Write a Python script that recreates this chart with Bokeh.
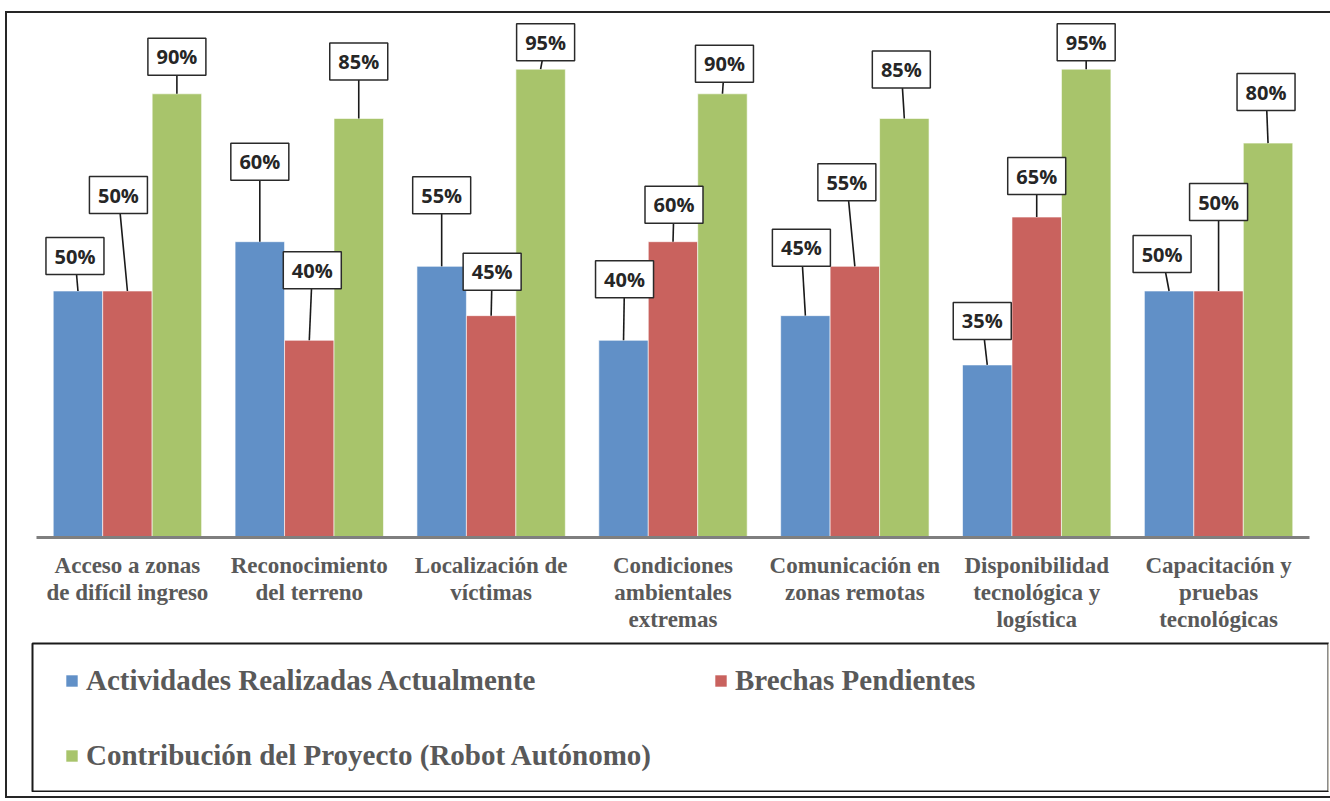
import numpy as np
from bokeh.plotting import figure
from bokeh.models import Range1d, Legend, LegendItem, FixedTicker
from bokeh.embed import file_html
from bokeh.resources import INLINE
from bokeh.core.properties import value

# ---------------- data ----------------
categories = [
    "Acceso a zonas\nde difícil ingreso",
    "Reconocimiento\ndel terreno",
    "Localización de\nvíctimas",
    "Condiciones\nambientales\nextremas",
    "Comunicación en\nzonas remotas",
    "Disponibilidad\ntecnológica y\nlogística",
    "Capacitación y\npruebas\ntecnológicas",
]
series_names = [
    "Actividades Realizadas Actualmente",
    "Brechas Pendientes",
    "Contribución del Proyecto (Robot Autónomo)",
]
actividades = [50, 60, 55, 40, 45, 35, 50]
brechas = [50, 40, 45, 60, 55, 65, 50]
contribucion = [90, 85, 95, 90, 85, 95, 80]
series_values = [actividades, brechas, contribucion]

# ---------------- style ----------------
colors = ["#6190C7", "#C9625E", "#A8C46B"]
bar_w = 0.272
offsets = [-bar_w, 0.0, bar_w]
# data-label leader offsets in screen pixels (dx right, dy up) per series
lab_dx = [[-3, 0, 0, 1, -4, -5, -7],
          [-9, 3, 1, 1, -8, 0, 0],
          [0, 0, 5, 2, -3, 0, -2]]
lab_dy = [[35, 80, 71, 61, 68, 44, 37],
          [96, 70, 44, 37, 84, 41, 89],
          [37, 57, 27, 30, 49, 27, 51]]

FIG_W, FIG_H = 1323, 783
B_LEFT, B_RIGHT, B_TOP, B_BOTTOM = 29, 21, 7, 259
frame_w = FIG_W - B_LEFT - B_RIGHT
frame_h = FIG_H - B_TOP - B_BOTTOM
px_per_pct = 4.93
y_end = frame_h / px_per_pct
n = len(categories)
px_per_cat = frame_w / n

p = figure(width=FIG_W, height=FIG_H, output_backend="svg", toolbar_location=None,
           x_range=Range1d(-0.5, n - 0.5), y_range=Range1d(0, y_end),
           min_border_left=B_LEFT, min_border_right=B_RIGHT,
           min_border_top=B_TOP, min_border_bottom=B_BOTTOM,
           y_axis_location=None)
p.styles = {"margin-left": "7px", "margin-top": "13px", "outline": "2px solid #262626"}
p.outline_line_color = None
p.grid.visible = False
p.background_fill_color = "white"
p.border_fill_color = "white"

xax = p.xaxis[0]
xax.ticker = FixedTicker(ticks=list(range(n)))
xax.major_label_overrides = {i: c for i, c in enumerate(categories)}
xax.axis_line_color = "#7F7F7F"
xax.axis_line_width = 3
xax.major_tick_line_color = None
xax.minor_tick_line_color = None
xax.major_label_standoff = 9
xax.major_label_text_font = "Liberation Serif"
xax.major_label_text_font_style = "bold"
xax.major_label_text_font_size = "23px"
xax.major_label_text_color = "#595959"
xax.major_label_text_line_height = 1.08

base = np.arange(n)
lx_all, ly_all, bx_all, by_all, txt_all = [], [], [], [], []
for s, vals in enumerate(series_values):
    xs = base + offsets[s]
    p.vbar(x=xs, top=vals, width=bar_w, fill_color=colors[s],
           line_color="white", line_alpha=0.6, line_width=1)
    for i, v in enumerate(vals):
        bx_all.append(xs[i])
        by_all.append(v)
        lx_all.append(xs[i] + lab_dx[s][i] / px_per_cat)
        ly_all.append(v + lab_dy[s][i] / px_per_pct)
        txt_all.append(f"{v}%")

p.segment(x0=bx_all, y0=by_all, x1=lx_all, y1=ly_all, line_color="#1A1A1A", line_width=1.6)
p.rect(x=lx_all, y=ly_all, width=58, height=37, width_units="screen", height_units="screen",
       fill_color="white", line_color="#2A2A2A", line_width=1.5)
p.text(x=lx_all, y=ly_all, text=txt_all, text_align="center", text_baseline="middle",
       text_font=value("Open Sans"), text_font_style="bold", text_font_size="20px",
       text_color="#262626")

# ---------------- legend panel (overlaid on the lower part of the chart) ----------------
LG_W, LG_H = 1298, 150
lg = figure(width=LG_W, height=LG_H, output_backend="svg", toolbar_location=None,
            x_range=Range1d(0, 1), y_range=Range1d(0, 1),
            x_axis_location=None, y_axis_location=None,
            min_border_left=1, min_border_right=1, min_border_top=1, min_border_bottom=1)
lg.styles = {"position": "absolute", "left": "31px", "top": "642px"}
lg.grid.visible = False
lg.outline_line_color = "#1A1A1A"
lg.outline_line_width = 2
lg.background_fill_color = "white"
lg.border_fill_color = "white"
# legend swatches: one out-of-view bar per series so that the legend has a glyph to draw
lg_r = [lg.vbar(x=[5], top=[5], width=0.1, fill_color=colors[s],
                line_color="white", line_alpha=0.6) for s in range(3)]

legend = Legend(items=[LegendItem(label=series_names[s], renderers=[lg_r[s]]) for s in range(3)],
                orientation="horizontal", ncols=2)
legend.label_text_font = "Liberation Serif"
legend.label_text_font_style = "bold"
legend.label_text_font_size = "29px"
legend.label_text_color = "#595959"
legend.glyph_width = 15
legend.glyph_height = 15
legend.label_standoff = 7
legend.label_height = 34
legend.padding = 0
legend.spacing = 41
legend.label_width = 586
legend.border_line_color = None
legend.background_fill_alpha = 0
legend.location = (32, 19)
legend.margin = 0
lg.add_layout(legend, "center")

open("out.html", "w").write(file_html([p, lg], INLINE))
